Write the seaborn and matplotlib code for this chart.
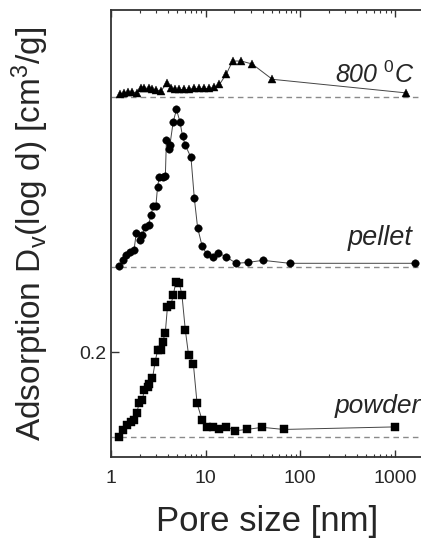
import numpy as np
import pandas as pd
import matplotlib
matplotlib.use("Agg")
import matplotlib.pyplot as plt
import seaborn as sns
from matplotlib.ticker import FixedLocator, LogLocator, NullFormatter

# ---- data (values relative to each curve's baseline) ----
powder_x = [1.20, 1.34, 1.48, 1.62, 1.77, 1.87, 1.98, 2.15, 2.24, 2.43, 2.53, 2.74, 2.93,
            3.10, 3.37, 3.50, 3.74, 3.95, 4.30, 4.54, 4.85, 5.26, 5.62, 6.09, 6.60, 7.41,
            8.11, 9.16, 10.3, 11.9, 14.0, 16.5, 20.6, 27.2, 39.6, 66.7, 1000]
powder_y = [0.001, 0.016, 0.028, 0.036, 0.040, 0.056, 0.080, 0.087, 0.111, 0.118, 0.126,
            0.138, 0.177, 0.205, 0.205, 0.224, 0.244, 0.307, 0.311, 0.334, 0.365, 0.363,
            0.334, 0.253, 0.193, 0.173, 0.080, 0.040, 0.024, 0.024, 0.020, 0.024, 0.015,
            0.018, 0.023, 0.018, 0.024]

pellet_x = [1.22, 1.34, 1.45, 1.58, 1.75, 1.85, 2.01, 2.15, 2.29, 2.49, 2.64, 2.79, 2.98,
            3.10, 3.23, 3.56, 3.75, 3.85, 4.05, 4.19, 4.54, 4.92, 5.35, 5.70, 6.09, 7.00,
            7.59, 8.22, 9.16, 10.3, 11.9, 13.4, 16.5, 21.0, 27.9, 40.2, 77.2, 1630]
pellet_y = [0.003, 0.016, 0.028, 0.036, 0.040, 0.081, 0.064, 0.075, 0.095, 0.099, 0.122,
            0.144, 0.144, 0.188, 0.212, 0.212, 0.214, 0.299, 0.279, 0.287, 0.342, 0.371,
            0.342, 0.308, 0.287, 0.258, 0.162, 0.093, 0.050, 0.030, 0.024, 0.034, 0.024,
            0.009, 0.011, 0.016, 0.009, 0.009]

c800_x = [1.24, 1.37, 1.53, 1.68, 1.86, 2.07, 2.24, 2.49, 2.74, 3.02, 3.37, 3.95, 4.30,
          4.77, 5.26, 5.94, 6.72, 7.59, 8.58, 9.69, 10.9, 12.4, 14.0, 16.5, 19.3, 23.7,
          31.0, 50.6, 1310]
c800_y = [0.007, 0.010, 0.0125, 0.0125, 0.010, 0.0205, 0.022, 0.0205, 0.018, 0.0165,
          0.015, 0.034, 0.0205, 0.018, 0.018, 0.018, 0.018, 0.0205, 0.0205, 0.0205,
          0.0205, 0.023, 0.030, 0.054, 0.085, 0.085, 0.078, 0.042, 0.010]

series_names = ["powder", "pellet", "800 $^{\\mathit{0}}$C"]
series_offsets = [0.0, 0.4, 0.8]
series_markers = ["s", "o", "^"]

x_ticks = [1, 10, 100, 1000]
x_ticklabels = ["1", "10", "100", "1000"]
y_ticks = [0.2]
y_ticklabels = ["0.2"]

# ---- style ----
sns.set_style("ticks")
plt.rcParams["font.family"] = ["Liberation Sans", "DejaVu Sans"]
plt.rcParams["mathtext.fontset"] = "custom"
plt.rcParams["mathtext.rm"] = "Liberation Sans"
plt.rcParams["mathtext.it"] = "Liberation Sans:italic"

fig = plt.figure(figsize=(4.21, 5.39), dpi=100)
ax = fig.add_axes([0.2637, 0.152, 0.742, 0.8294])

frames = []
for name, xs, ys, off in zip(series_names,
                             [powder_x, pellet_x, c800_x],
                             [powder_y, pellet_y, c800_y],
                             series_offsets):
    frames.append(pd.DataFrame({"x": xs, "y": np.array(ys) + off, "series": name}))
df = pd.concat(frames, ignore_index=True)

for name, mk, off in zip(series_names, series_markers, series_offsets):
    ax.axhline(off, color="#8a8a8a", lw=1.0, ls=(0, (4, 3)), zorder=1)
    sub = df[df["series"] == name]
    sns.lineplot(data=sub, x="x", y="y", ax=ax, estimator=None, sort=False,
                 color="#444444", lw=0.7, marker=mk, markersize=5.4 if mk != "^" else 5.8,
                 markerfacecolor="black", markeredgecolor="black", markeredgewidth=0.3,
                 zorder=3)

ax.set_xscale("log")
ax.set_xlim(1, 2000)
ax.set_ylim(-0.047, 1.005)

ax.xaxis.set_major_locator(FixedLocator(x_ticks))
ax.set_xticklabels(x_ticklabels)
ax.xaxis.set_minor_locator(LogLocator(base=10, subs=np.arange(2, 10)))
ax.xaxis.set_minor_formatter(NullFormatter())
ax.set_yticks(y_ticks)
ax.set_yticklabels(y_ticklabels)

ax.tick_params(axis="x", which="major", direction="in", length=5, width=1.0,
               top=True, bottom=True, labelsize=14, pad=9, color="#333333")
ax.tick_params(axis="x", which="minor", direction="in", length=2.5, width=0.8,
               top=True, bottom=True, color="#333333")
ax.tick_params(axis="y", which="major", direction="in", length=6, width=1.0,
               left=True, right=False, labelsize=14, pad=3, color="#333333")

for s in ["left", "bottom", "top"]:
    ax.spines[s].set_color("#333333")
    ax.spines[s].set_linewidth(1.3)
ax.spines["right"].set_visible(False)

ax.set_xlabel("Pore size [nm]", fontsize=25, labelpad=13)
ax.set_ylabel("Adsorption D$_{\\mathrm{v}}$(log d) [cm$^{3}$/g]", fontsize=24, labelpad=21)
if ax.get_legend() is not None:
    ax.get_legend().remove()

ax.text(1620, 0.833, series_names[2], fontsize=18, style="italic", ha="right", va="baseline")
ax.text(1530, 0.452, "pellet", fontsize=19.5, style="italic", ha="right", va="baseline")
ax.text(1860, 0.056, "powder", fontsize=19, style="italic", ha="right", va="baseline")

fig.savefig("out.png", dpi=100)
